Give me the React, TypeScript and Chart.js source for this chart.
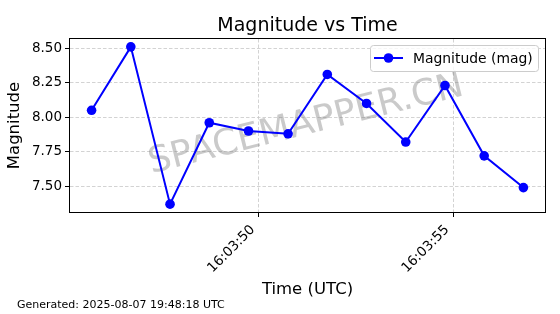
import React, { useEffect, useRef } from "react";
import { Chart, registerables } from "chart.js";

Chart.register(...registerables);

// ---- data ----
const timeLabels = [
  "16:03:45.69", "16:03:46.70", "16:03:47.71", "16:03:48.72", "16:03:49.73", "16:03:50.75",
  "16:03:51.76", "16:03:52.77", "16:03:53.78", "16:03:54.79", "16:03:55.80", "16:03:56.81",
];
const magnitudes = [8.05, 8.51, 7.37, 7.96, 7.9, 7.88, 8.31, 8.1, 7.82, 8.23, 7.72, 7.49];
const xTickLabels = ["16:03:50", "16:03:55"];
const yTickValues = [7.5, 7.75, 8.0, 8.25, 8.5];

const seriesLabel = "Magnitude (mag)";
const titleText = "Magnitude vs Time";
const xTitle = "Time (UTC)";
const yTitle = "Magnitude";
const footerText = "Generated: 2025-08-07 19:48:18 UTC";
const watermarkText = "SPACEMAPPER.CN";

const FONT = "'DejaVu Sans', sans-serif";
const BLUE = "#0000ff";

function toSec(s: string): number {
  const [h, m, sec] = s.split(":");
  return Number(h) * 3600 + Number(m) * 60 + Number(sec);
}
function fmtTime(v: number): string {
  const t = Math.round(v);
  const h = Math.floor(t / 3600);
  const m = Math.floor((t % 3600) / 60);
  const s = t % 60;
  const p = (n: number) => String(n).padStart(2, "0");
  return `${p(h)}:${p(m)}:${p(s)}`;
}

const xs = timeLabels.map(toSec);
const xTickValues = xTickLabels.map(toSec);

function range(vals: number[]) {
  const lo = Math.min(...vals);
  const hi = Math.max(...vals);
  const pad = (hi - lo) * 0.05;
  return [lo - pad, hi + pad];
}
const [xMin, xMax] = range(xs);
const [yMin, yMax] = range(magnitudes);

const decorPlugin = {
  id: "decor",
  beforeDatasetsDraw(chart: any) {
    const ctx = chart.ctx;
    ctx.save();
    ctx.translate(306, 125);
    ctx.rotate((-14 * Math.PI) / 180);
    ctx.font = `36px ${FONT}`;
    ctx.fillStyle = "rgba(128,128,128,0.42)";
    ctx.textAlign = "center";
    ctx.textBaseline = "middle";
    ctx.fillText(watermarkText, 0, 0);
    ctx.restore();
  },
  afterDraw(chart: any) {
    const ctx = chart.ctx;
    const a = chart.chartArea;
    ctx.save();
    // frame
    ctx.strokeStyle = "#000";
    ctx.lineWidth = 1;
    ctx.strokeRect(Math.round(a.left) - 0.5, Math.round(a.top) - 0.5, Math.round(a.right - a.left) + 1, Math.round(a.bottom - a.top) + 1);

    const cx = (a.left + a.right) / 2;
    ctx.fillStyle = "#000";
    // title
    ctx.font = `19px ${FONT}`;
    ctx.textAlign = "center";
    ctx.textBaseline = "alphabetic";
    ctx.fillText(titleText, cx, 31);
    // x title
    ctx.font = `16.5px ${FONT}`;
    ctx.fillText(xTitle, cx, 294);
    // y title
    ctx.save();
    ctx.translate(15, (a.top + a.bottom) / 2);
    ctx.rotate(-Math.PI / 2);
    ctx.textBaseline = "middle";
    ctx.fillText(yTitle, 0, 0);
    ctx.restore();
    // footer
    ctx.font = `11px ${FONT}`;
    ctx.textAlign = "left";
    ctx.fillText(footerText, 17, 308);

    // legend
    const lx = 370, ly = 45, lw = 168, lh = 26;
    ctx.beginPath();
    if (ctx.roundRect) ctx.roundRect(lx + 0.5, ly + 0.5, lw, lh, 3);
    else ctx.rect(lx + 0.5, ly + 0.5, lw, lh);
    ctx.fillStyle = "rgba(255,255,255,0.8)";
    ctx.fill();
    ctx.strokeStyle = "#cccccc";
    ctx.lineWidth = 1;
    ctx.stroke();
    const my = ly + lh / 2;
    ctx.strokeStyle = BLUE;
    ctx.lineWidth = 2;
    ctx.beginPath();
    ctx.moveTo(lx + 4, my);
    ctx.lineTo(lx + 33, my);
    ctx.stroke();
    ctx.fillStyle = BLUE;
    ctx.beginPath();
    ctx.arc(lx + 18.5, my, 4.8, 0, Math.PI * 2);
    ctx.fill();
    ctx.fillStyle = "#000";
    ctx.font = `13.9px ${FONT}`;
    ctx.textAlign = "left";
    ctx.textBaseline = "middle";
    ctx.fillText(seriesLabel, lx + 43, my + 1);
    ctx.restore();
  },
};

export default function App() {
  const ref = useRef<HTMLCanvasElement | null>(null);
  useEffect(() => {
    if (!ref.current) return;
    const tickFont = { family: FONT, size: 13.5 };
    const gridOpts = { color: "#c8c8c8", lineWidth: 0.8, tickColor: "#000", tickLength: 5, tickWidth: 1 };
    const chart = new Chart(ref.current, {
      type: "line",
      data: {
        datasets: [
          {
            label: seriesLabel,
            data: xs.map((x, i) => ({ x, y: magnitudes[i] })),
            borderColor: BLUE,
            backgroundColor: BLUE,
            pointBackgroundColor: BLUE,
            pointBorderColor: BLUE,
            pointRadius: 4.8,
            pointBorderWidth: 0,
            borderWidth: 2,
            tension: 0,
            fill: false,
          },
        ],
      },
      options: {
        responsive: false,
        animation: false,
        events: [],
        layout: { padding: { top: 39, right: 15, left: 0, bottom: 0 } },
        plugins: {
          legend: { display: false },
          title: { display: false },
          tooltip: { enabled: false },
        },
        scales: {
          x: {
            type: "linear",
            min: xMin,
            max: xMax,
            afterBuildTicks: (s: any) => {
              s.ticks = xTickValues.map((v) => ({ value: v }));
            },
            afterFit: (s: any) => {
              s.height = 102;
            },
            ticks: {
              autoSkip: false,
              minRotation: 45,
              maxRotation: 45,
              padding: 5,
              labelOffset: -6,
              color: "#000",
              font: tickFont,
              callback: (v: any) => fmtTime(Number(v)),
            },
            grid: gridOpts,
            border: { display: false, dash: [3.5, 2] },
          },
          y: {
            type: "linear",
            min: yMin,
            max: yMax,
            afterBuildTicks: (s: any) => {
              s.ticks = yTickValues.map((v) => ({ value: v }));
            },
            afterFit: (s: any) => {
              s.width = 70;
            },
            ticks: {
              padding: 3,
              color: "#000",
              font: tickFont,
              callback: (v: any) => Number(v).toFixed(2),
            },
            grid: gridOpts,
            border: { display: false, dash: [3.5, 2] },
          },
        },
      } as any,
      plugins: [decorPlugin],
    });
    return () => chart.destroy();
  }, []);
  return (
    <div style={{ position: "fixed", left: 0, top: 0, width: 560, height: 314, background: "#fff" }}>
      <canvas ref={ref} width={560} height={314} />
    </div>
  );
}
